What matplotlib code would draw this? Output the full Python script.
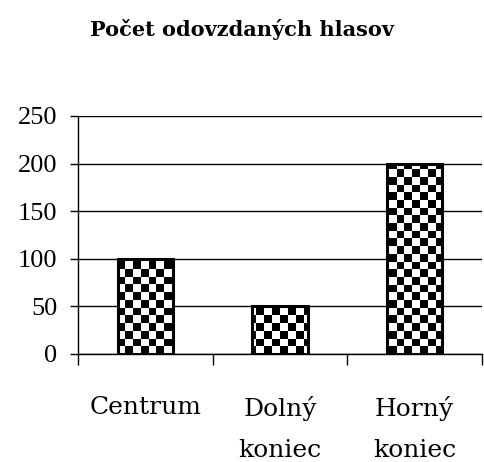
import numpy as np
import matplotlib
matplotlib.use("Agg")
import matplotlib.pyplot as plt

title = "Počet odovzdaných hlasov"
categories = ["Centrum", "Dolný\nkoniec", "Horný\nkoniec"]
votes = [100, 50, 200]
yticks = [0, 50, 100, 150, 200, 250]

plt.rcParams["font.family"] = ["Liberation Serif", "DejaVu Serif"]

W, H, DPI = 484, 462, 100
fig = plt.figure(figsize=(W / DPI, H / DPI), dpi=DPI)
ax = fig.add_axes([78 / W, 1 - 354 / H, (482 - 78) / W, (354 - 116) / H])

x = np.arange(len(categories))
bars = ax.bar(x, votes, width=0.41, facecolor="none", edgecolor="black",
              linewidth=2.2, zorder=3)

# checkerboard fill clipped to each bar
cell = 7.7
nx = int(round((482 - 78) / cell))
ny = int(round((354 - 116) / cell))
board = (np.add.outer(np.arange(ny), np.arange(nx)) % 2).astype(float)
for b in bars:
    im = ax.imshow(board, cmap="gray", vmin=0, vmax=1, interpolation="nearest",
                   extent=[0, 1, 0, 1], transform=ax.transAxes, aspect="auto",
                   zorder=2.5)
    im.set_clip_path(b)

ax.set_xlim(-0.5, len(categories) - 0.5)
ax.set_ylim(0, 250)
ax.set_yticks(yticks)
ax.set_yticklabels([str(v) for v in yticks], family=["Liberation Serif"])
ax.set_xticks(x)
ax.set_xticklabels(categories, linespacing=2.0, va="top",
                   family=["DejaVu Serif"])
ax.set_xticks(np.arange(len(categories) + 1) - 0.5, minor=True)

ax.tick_params(axis="y", which="major", direction="out", length=6, width=1,
               labelsize=19, pad=9)
ax.tick_params(axis="x", which="major", length=0, labelsize=18, pad=30)
ax.tick_params(axis="x", which="minor", direction="out", length=8, width=1)

ax.yaxis.grid(True, color="black", linewidth=1)
ax.set_axisbelow(True)
for s in ["top", "right"]:
    ax.spines[s].set_visible(False)
ax.spines["left"].set_linewidth(1)
ax.spines["bottom"].set_linewidth(1)

fig.text(242 / W, 1 - 30 / H, title, ha="center", va="center",
         fontsize=15, fontweight="bold", family=["DejaVu Serif"])

fig.savefig("out.png", dpi=DPI)
